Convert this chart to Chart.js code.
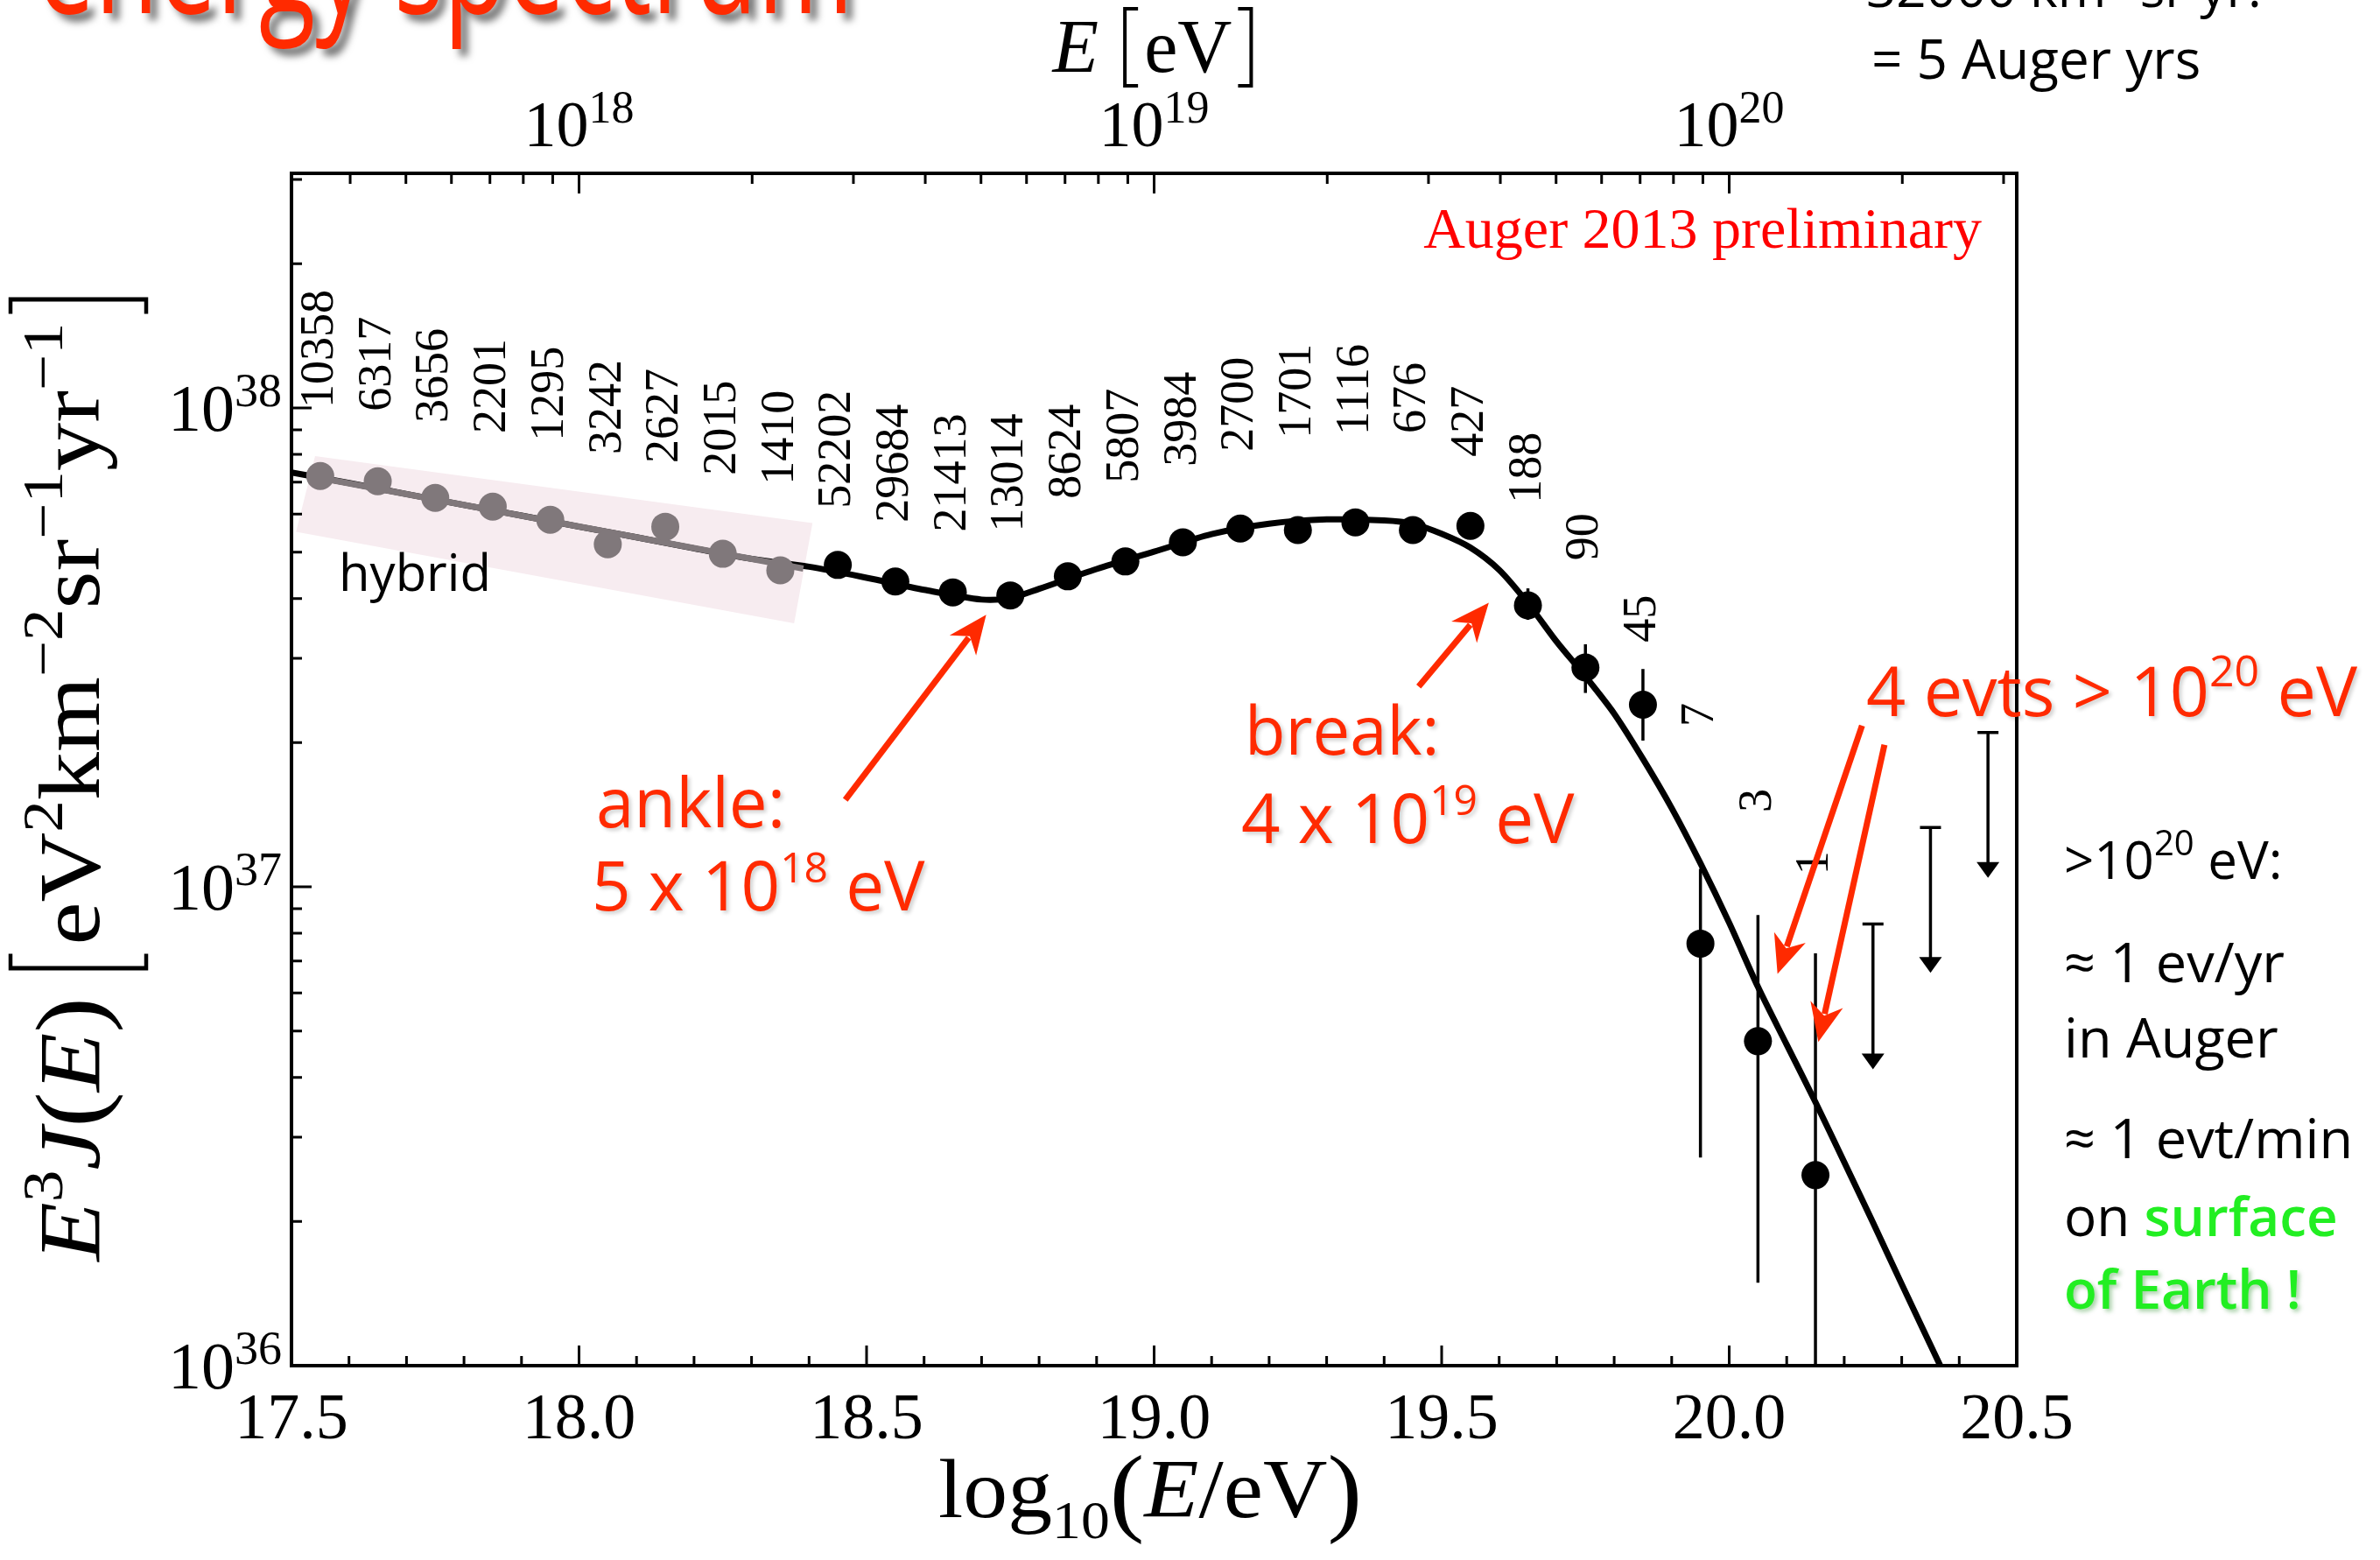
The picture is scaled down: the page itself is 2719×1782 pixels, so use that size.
<!DOCTYPE html>
<html><head><meta charset="utf-8">
<script src="https://cdn.jsdelivr.net/npm/chart.js@4.4.1/dist/chart.umd.min.js"></script>
<style>html,body{margin:0;padding:0;background:#fff;overflow:hidden}canvas{display:block}</style>
</head><body>
<canvas id="c" width="2719" height="1782"></canvas>
<script>
// ---------------- data ----------------
const hybridLogE   = [17.55, 17.65, 17.75, 17.85, 17.95, 18.05, 18.15, 18.25, 18.35];
const hybridFlux   = [7.21e37, 7.03e37, 6.49e37, 6.22e37, 5.84e37, 5.19e37, 5.65e37, 4.96e37, 4.58e37];
const hybridCounts = ['10358', '6317', '3656', '2201', '1295', '3242', '2627', '2015', '1410'];
const hybridLabelAt = [1.00e38, 9.84e37, 9.31e37, 8.85e37, 8.53e37, 8.00e37, 7.67e37, 7.24e37, 6.91e37];

const sdLogE   = [18.45, 18.55, 18.65, 18.75, 18.85, 18.95, 19.05, 19.15, 19.25, 19.35, 19.45, 19.55, 19.65, 19.75, 19.85, 19.95, 20.05, 20.15];
const sdFlux   = [4.70e37, 4.34e37, 4.12e37, 4.06e37, 4.45e37, 4.78e37, 5.24e37, 5.60e37, 5.56e37, 5.77e37, 5.56e37, 5.67e37, 3.87e37, 2.87e37, 2.40e37, 7.61e36, 4.76e36, 2.50e36];
const sdErrLow = [null, null, null, null, null, null, null, null, null, null, null, null, 3.61e37, 2.54e37, 2.02e37, 2.72e36, 1.49e36, 8.0e35];
const sdErrHigh= [null, null, null, null, null, null, null, null, null, null, null, null, 4.20e37, 3.21e37, 2.85e37, 1.09e37, 8.73e36, 7.26e36];
const sdCounts = ['52202', '29684', '21413', '13014', '8624', '5807', '3984', '2700', '1701', '1116', '676', '427', '188', '90', '45', '7', '3', '1'];
const sdLabelAt = [6.17e37, 5.77e37, 5.51e37, 5.51e37, 6.46e37, 6.97e37, 7.55e37, 8.11e37, 8.64e37, 8.78e37, 8.85e37, 7.91e37, 6.33e37, 4.80e37, 3.24e37, 2.16e37, 1.43e37, 1.06e37];

const ulLogE = [20.25, 20.35, 20.45];
const ulFlux = [8.36e36, 1.33e37, 2.10e37];

const fitLogE = [17.5, 17.6, 17.7, 17.8, 17.9, 18.0, 18.1, 18.2, 18.3, 18.4, 18.5, 18.6, 18.7, 18.75, 18.8, 18.9, 19.0, 19.1, 19.2, 19.3, 19.4, 19.45, 19.5, 19.55, 19.6, 19.65, 19.7, 19.75, 19.8, 19.85, 19.9, 19.95, 20.0, 20.05, 20.1, 20.15, 20.2, 20.25, 20.3, 20.367];
const fitFlux = [7.33e37, 6.97e37, 6.61e37, 6.27e37, 5.96e37, 5.65e37, 5.37e37, 5.09e37, 4.84e37, 4.66e37, 4.42e37, 4.17e37, 3.98e37, 4.01e37, 4.19e37, 4.61e37, 5.01e37, 5.45e37, 5.73e37, 5.85e37, 5.82e37, 5.73e37, 5.46e37, 5.11e37, 4.59e37, 3.91e37, 3.25e37, 2.75e37, 2.30e37, 1.85e37, 1.46e37, 1.12e37, 8.41e36, 6.18e36, 4.68e36, 3.55e36, 2.66e36, 1.99e36, 1.48e36, 1.00e36];

const hybLineLogE = [17.55, 18.39];
const hybLineFlux = [7.14e37, 4.62e37];

const bandLogE = [17.541, 18.406, 18.374, 17.508];
const bandFlux = [7.93e37, 5.75e37, 3.55e37, 5.51e37];

const yTickExps   = [36, 37, 38];
const topTickExps = [18, 19, 20];

// annotation arrows [tailLogE, tailFlux, tipLogE, tipFlux]
const arrowAnkle = [18.463, 1.52e37, 18.708, 3.70e37];
const arrowBreak = [19.460, 2.62e37, 19.582, 3.92e37];
const arrowEvts1 = [20.231, 2.17e37, 20.084, 6.58e36];
const arrowEvts2 = [20.270, 1.98e37, 20.155, 4.74e36];

// ---------------- styling ----------------
const SERIF = "'Liberation Serif','Times New Roman',serif";
const HAND = "'Open Sans','Noto Sans',sans-serif";
const RED = '#ff2a00';
const GREY = '#80787b';
const GREEN = '#22ee22';

function fontStr(g, fam) {
  return (g.it ? 'italic ' : '') + (g.w || 400) + ' ' + g.s + 'px ' + (g.f || fam);
}
function rich(ctx, x, y, segs, align, fam, color) {
  const widths = segs.map(g => {
    if (g.br) return g.bw;
    ctx.font = fontStr(g, fam);
    return ctx.measureText(g.t).width + (g.gap || 0);
  });
  const total = widths.reduce((a, b) => a + b, 0);
  let cx = align === 'center' ? x - total / 2 : align === 'right' ? x - total : x;
  ctx.textAlign = 'left';
  ctx.textBaseline = 'alphabetic';
  segs.forEach((g, i) => {
    if (g.br) {
      ctx.save();
      ctx.strokeStyle = color; ctx.lineWidth = g.lw || 4;
      const x0 = g.br === '[' ? cx + 6 : cx + g.bw - 6;
      const arm = g.br === '[' ? g.arm : -g.arm;
      ctx.beginPath();
      ctx.moveTo(x0 + arm, y + g.y0);
      ctx.lineTo(x0, y + g.y0);
      ctx.lineTo(x0, y + g.y1);
      ctx.lineTo(x0 + arm, y + g.y1);
      ctx.stroke();
      ctx.restore();
    } else {
      ctx.font = fontStr(g, fam);
      ctx.fillStyle = g.c || color;
      ctx.fillText(g.t, cx, y + (g.dy || 0));
    }
    cx += widths[i];
  });
  return total;
}

function drawArrow(ctx, x0, y0, x1, y1, color, lw, hl, hw) {
  const a = Math.atan2(y1 - y0, x1 - x0);
  const bx = x1 - Math.cos(a) * hl * 0.75, by = y1 - Math.sin(a) * hl * 0.75;
  ctx.save();
  ctx.strokeStyle = color; ctx.fillStyle = color; ctx.lineWidth = lw; ctx.lineCap = 'butt';
  ctx.beginPath(); ctx.moveTo(x0, y0); ctx.lineTo(bx, by); ctx.stroke();
  const ca = Math.cos(a), sa = Math.sin(a);
  const backX = x1 - ca * hl, backY = y1 - sa * hl;
  ctx.beginPath();
  ctx.moveTo(x1, y1);
  ctx.lineTo(backX - sa * hw, backY + ca * hw);
  ctx.lineTo(x1 - ca * hl * 0.7, y1 - sa * hl * 0.7);
  ctx.lineTo(backX + sa * hw, backY - ca * hw);
  ctx.closePath(); ctx.fill();
  ctx.restore();
}

const annot = {
  id: 'annot',
  beforeDatasetsDraw(chart) {
    const ctx = chart.ctx, X = chart.scales.x, Y = chart.scales.y, a = chart.chartArea;
    ctx.save();
    ctx.beginPath(); ctx.rect(a.left, a.top, a.right - a.left, a.bottom - a.top); ctx.clip();
    // pink band behind hybrid data
    ctx.fillStyle = '#f7ecf0';
    ctx.beginPath();
    bandLogE.forEach((e, i) => {
      const px = X.getPixelForValue(e), py = Y.getPixelForValue(bandFlux[i]);
      if (i === 0) ctx.moveTo(px, py); else ctx.lineTo(px, py);
    });
    ctx.closePath(); ctx.fill();
    // error bars
    ctx.strokeStyle = '#000'; ctx.lineWidth = 3.5;
    sdLogE.forEach((e, i) => {
      if (sdErrLow[i] == null) return;
      const px = X.getPixelForValue(e);
      ctx.beginPath();
      ctx.moveTo(px, Y.getPixelForValue(sdErrHigh[i]));
      ctx.lineTo(px, Y.getPixelForValue(sdErrLow[i]));
      ctx.stroke();
    });
    // upper limits
    ulLogE.forEach((e, i) => {
      const px = X.getPixelForValue(e), py = Y.getPixelForValue(ulFlux[i]);
      const tip = py + 166;
      ctx.lineWidth = 3.5;
      ctx.beginPath();
      ctx.moveTo(px - 12, py); ctx.lineTo(px + 12, py);
      ctx.moveTo(px, py); ctx.lineTo(px, tip - 14);
      ctx.stroke();
      ctx.fillStyle = '#000';
      ctx.beginPath();
      ctx.moveTo(px, tip); ctx.lineTo(px - 13, tip - 18); ctx.lineTo(px + 13, tip - 18); ctx.closePath(); ctx.fill();
    });
    ctx.restore();
  },
  afterDatasetsDraw(chart) {
    const ctx = chart.ctx, X = chart.scales.x, Y = chart.scales.y, a = chart.chartArea;
    const P = (e, f) => [X.getPixelForValue(e), Y.getPixelForValue(f)];
    ctx.save();
    // event-count labels
    ctx.fillStyle = '#000';
    ctx.font = '54px ' + SERIF;
    ctx.textAlign = 'left'; ctx.textBaseline = 'middle';
    const lab = (e, f, t) => {
      const [px, py] = P(e, f);
      ctx.save(); ctx.translate(px, py); ctx.rotate(-Math.PI / 2); ctx.fillText(t, 0, 0); ctx.restore();
    };
    hybridLogE.forEach((e, i) => lab(e, hybridLabelAt[i], hybridCounts[i]));
    sdLogE.forEach((e, i) => lab(e, sdLabelAt[i], sdCounts[i]));

    // frame
    ctx.strokeStyle = '#000'; ctx.lineWidth = 4;
    ctx.strokeRect(a.left, a.top, a.right - a.left, a.bottom - a.top);
    // left ticks (log)
    ctx.lineWidth = 3;
    ctx.beginPath();
    for (let d = 36; d <= 38; d++) {
      for (let k = 1; k <= 9; k++) {
        const v = k * Math.pow(10, d);
        if (v < Y.min * 0.999 || v > Y.max) continue;
        const py = Y.getPixelForValue(v);
        const len = k === 1 ? 23 : 12;
        ctx.moveTo(a.left, py); ctx.lineTo(a.left + len, py);
      }
    }
    // bottom ticks
    for (let i = 1; i < 30; i++) {
      const v = 17.5 + i * 0.1;
      const px = X.getPixelForValue(v);
      const len = (i % 5 === 0) ? 23 : 11;
      ctx.moveTo(px, a.bottom); ctx.lineTo(px, a.bottom - len);
    }
    // top ticks (energy, log)
    for (let n = 17; n <= 20; n++) {
      for (let k = 1; k <= 9; k++) {
        const v = n + Math.log10(k);
        if (v <= 17.5 || v >= 20.5) continue;
        const px = X.getPixelForValue(v);
        const len = k === 1 ? 23 : 12;
        ctx.moveTo(px, a.top); ctx.lineTo(px, a.top + len);
      }
    }
    ctx.stroke();

    // y tick labels 10^n
    yTickExps.forEach(n => {
      const py = Y.getPixelForValue(Math.pow(10, n));
      rich(ctx, 322, py + 26, [{t: '10', s: 76}, {t: String(n), s: 54, dy: -28}], 'right', SERIF, '#000');
    });
    // top tick labels
    topTickExps.forEach(n => {
      const px = X.getPixelForValue(n);
      rich(ctx, px, 167, [{t: '10', s: 74}, {t: String(n), s: 52, dy: -27}], 'center', SERIF, '#000');
    });
    // top axis title E [eV]
    rich(ctx, 1319, 82, [{t: 'E', s: 86, it: true, gap: 24},
      {br: '[', bw: 28, y0: -72, y1: 16, arm: 15, lw: 4},
      {t: 'eV', s: 86},
      {br: ']', bw: 28, y0: -72, y1: 16, arm: 15, lw: 4}], 'center', SERIF, '#000');
    // x axis title
    ctx.save();
    ctx.translate(1314, 1733); ctx.scale(1.06, 1);
    rich(ctx, 0, 0, [{t: 'log', s: 96}, {t: '10', s: 62, dy: 24},
      {t: '(', s: 112, dy: 7}, {t: 'E', s: 96, it: true}, {t: '/eV', s: 96}, {t: ')', s: 112, dy: 7}], 'center', SERIF, '#000');
    ctx.restore();
    // y axis title (rotated)
    ctx.save();
    ctx.translate(113, 888); ctx.rotate(-Math.PI / 2); ctx.scale(1.105, 1);
    rich(ctx, 0, 0, [
      {t: 'E', s: 100, it: true}, {t: '3', s: 66, dy: -42}, {t: 'J', s: 100, it: true},
      {t: '(', s: 110, dy: 4}, {t: 'E', s: 100, it: true}, {t: ')', s: 110, dy: 4, gap: 24},
      {br: '[', bw: 30, y0: -101, y1: 54, arm: 15, lw: 4.5},
      {t: 'eV', s: 100}, {t: '2', s: 66, dy: -42}, {t: 'km', s: 100}, {t: '\u22122', s: 66, dy: -42},
      {t: 'sr', s: 100}, {t: '\u22121', s: 66, dy: -42}, {t: 'yr', s: 100}, {t: '\u22121', s: 66, dy: -42},
      {br: ']', bw: 30, y0: -101, y1: 54, arm: 15, lw: 4.5}], 'center', SERIF, '#000');
    ctx.restore();

    // "Auger 2013 preliminary"
    ctx.font = '66px ' + SERIF; ctx.fillStyle = '#ff0000'; ctx.textAlign = 'right'; ctx.textBaseline = 'alphabetic';
    ctx.fillText('Auger 2013 preliminary', 2264, 283);

    // hybrid label
    ctx.font = '500 58px ' + HAND; ctx.fillStyle = '#000'; ctx.textAlign = 'left';
    ctx.fillText('hybrid', 387, 675);

    // red annotation arrows
    [arrowAnkle, arrowBreak, arrowEvts1, arrowEvts2].forEach(r => {
      const [x0, y0] = P(r[0], r[1]), [x1, y1] = P(r[2], r[3]);
      drawArrow(ctx, x0, y0, x1, y1, RED, 7, 44, 19);
    });

    // red handwritten annotations
    ctx.save();
    ctx.shadowColor = 'rgba(0,0,0,0.18)'; ctx.shadowOffsetX = 3; ctx.shadowOffsetY = 3; ctx.shadowBlur = 4;
    rich(ctx, 681, 945, [{t: 'ankle:', s: 78, w: 500}], 'left', HAND, RED);
    rich(ctx, 676, 1040, [{t: '5 x 10', s: 78, w: 500}, {t: '18', s: 48, w: 500, dy: -32}, {t: ' eV', s: 78, w: 500}], 'left', HAND, RED);
    rich(ctx, 1422, 862, [{t: 'break:', s: 76, w: 500}], 'left', HAND, RED);
    rich(ctx, 1418, 963, [{t: '4 x 10', s: 78, w: 500}, {t: '19', s: 48, w: 500, dy: -32}, {t: ' eV', s: 78, w: 500}], 'left', HAND, RED);
    rich(ctx, 2132, 818, [{t: '4 evts > 10', s: 79, w: 500}, {t: '20', s: 50, w: 500, dy: -34}, {t: ' eV', s: 79, w: 500}], 'left', HAND, RED);
    ctx.restore();

    // right-hand black notes
    const B = (y, segs) => rich(ctx, 2358, y, segs, 'left', HAND, '#000');
    B(1004, [{t: '>10', s: 60, w: 500}, {t: '20', s: 40, w: 500, dy: -27}, {t: ' eV:', s: 60, w: 500}]);
    B(1122, [{t: '\u2248 1 ev/yr', s: 63, w: 500}]);
    B(1208, [{t: 'in Auger', s: 63, w: 500}]);
    B(1323, [{t: '\u2248 1 evt/min', s: 63, w: 500}]);
    B(1412, [{t: 'on ', s: 62, w: 500}, {t: 'surface', s: 62, w: 600, c: GREEN}]);
    ctx.save();
    ctx.shadowColor = 'rgba(0,120,0,0.35)'; ctx.shadowOffsetX = 3; ctx.shadowOffsetY = 3; ctx.shadowBlur = 5;
    B(1495, [{t: 'of Earth !', s: 62, w: 600, c: GREEN}]);
    ctx.restore();

    // top-right exposure note
    rich(ctx, 2132, 8, [{t: '32000 km', s: 60, w: 500}, {t: '2', s: 40, w: 500, dy: -26}, {t: ' sr yr.', s: 60, w: 500}], 'left', HAND, '#000');
    rich(ctx, 2138, 90, [{t: '= 5 Auger yrs', s: 62, w: 500}], 'left', HAND, '#000');

    // slide title (cut off at the top)
    ctx.save();
    ctx.shadowColor = 'rgba(0,0,0,0.55)'; ctx.shadowOffsetX = 8; ctx.shadowOffsetY = 8; ctx.shadowBlur = 8;
    ctx.font = '500 170px ' + HAND;
    const tw = ctx.measureText('energy spectrum').width;
    ctx.translate(42, 15); ctx.scale(933 / tw, 1);
    ctx.fillStyle = RED; ctx.textAlign = 'left'; ctx.textBaseline = 'alphabetic';
    ctx.fillText('energy spectrum', 0, 0);
    ctx.restore();
    ctx.restore();
  }
};

const toXY = (xs, ys) => xs.map((x, i) => ({x: x, y: ys[i]}));

new Chart(document.getElementById('c').getContext('2d'), {
  type: 'scatter',
  data: {
    datasets: [
      {label: 'SD', data: toXY(sdLogE, sdFlux), pointRadius: 16, pointHoverRadius: 16,
       backgroundColor: '#000', borderColor: '#000', borderWidth: 0, order: 1},
      {label: 'hybrid', data: toXY(hybridLogE, hybridFlux), pointRadius: 16, pointHoverRadius: 16,
       backgroundColor: GREY, borderColor: GREY, borderWidth: 0, order: 2},
      {label: 'hybrid fit', type: 'line', data: toXY(hybLineLogE, hybLineFlux), borderColor: GREY,
       borderWidth: 7, pointRadius: 0, fill: false, order: 3},
      {label: 'fit', type: 'line', data: toXY(fitLogE, fitFlux), borderColor: '#000',
       borderWidth: 7, pointRadius: 0, fill: false, tension: 0.3, order: 4}
    ]
  },
  options: {
    responsive: false, animation: false, devicePixelRatio: 1,
    layout: {padding: {left: 333, right: 415, top: 198, bottom: 0}},
    plugins: {legend: {display: false}, tooltip: {enabled: false}},
    scales: {
      x: {
        type: 'linear', min: 17.5, max: 20.5,
        grid: {display: false, drawTicks: false}, border: {display: false},
        ticks: {stepSize: 0.5, color: '#000', padding: 27,
          font: {family: SERIF, size: 74, lineHeight: 1},
          callback: v => Number(v).toFixed(1)},
        afterFit: s => { s.height = 222; }
      },
      y: {type: 'logarithmic', min: 1e36, max: 3.09e38, display: false}
    }
  },
  plugins: [annot]
});
</script>
</body></html>
